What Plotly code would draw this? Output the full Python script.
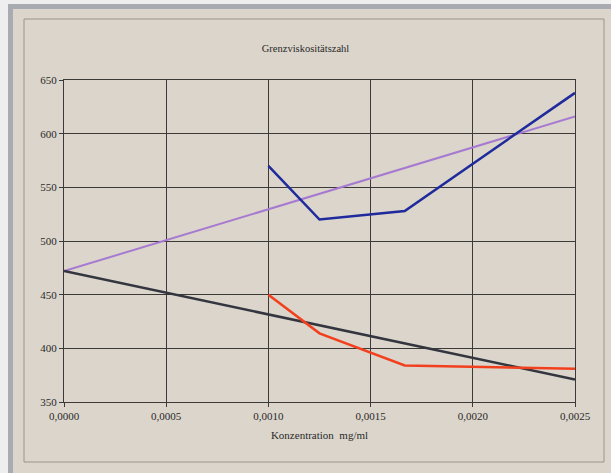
import plotly.graph_objects as go

# Data
x_lines = [0.0, 0.0025]
purple_y = [472, 616]
black_y = [472, 371]

x_meas = [0.0010, 0.00125, 0.001667, 0.0025]
blue_y = [570, 520, 528, 638]
red_y = [450, 414, 384, 381]

x_ticks = [0.0, 0.0005, 0.0010, 0.0015, 0.0020, 0.0025]
y_ticks = [350, 400, 450, 500, 550, 600, 650]

W, H = 611, 473
ML, MR, MT, MB = 64, 36, 80, 71
PW, PH = W - ML - MR, H - MT - MB

def px(x):
    return (x - ML) / PW

def py(y):
    return (H - MB - y) / PH

fig = go.Figure()
fig.add_trace(go.Scatter(x=x_lines, y=purple_y, mode="lines",
                         line=dict(color="#a77ad2", width=2), showlegend=False))
fig.add_trace(go.Scatter(x=x_lines, y=black_y, mode="lines",
                         line=dict(color="#33353f", width=2.5), showlegend=False))
fig.add_trace(go.Scatter(x=x_meas, y=blue_y, mode="lines",
                         line=dict(color="#1f2a9c", width=2.5), showlegend=False))
fig.add_trace(go.Scatter(x=x_meas, y=red_y, mode="lines",
                         line=dict(color="#f2401e", width=2.5), showlegend=False))

bg = "#dbd5cb"
shapes = [
    dict(type="rect", xref="paper", yref="paper", x0=px(0), x1=px(W), y0=py(0), y1=py(4),
         fillcolor="#eeeeee", line=dict(width=0), layer="below"),
    dict(type="rect", xref="paper", yref="paper", x0=px(0), x1=px(8), y0=py(0), y1=py(H),
         fillcolor="#eeeeee", line=dict(width=0), layer="below"),
    dict(type="rect", xref="paper", yref="paper", x0=px(8), x1=px(W), y0=py(4), y1=py(9),
         fillcolor="#a9abb3", line=dict(width=0), layer="below"),
    dict(type="rect", xref="paper", yref="paper", x0=px(8), x1=px(13), y0=py(4), y1=py(H),
         fillcolor="#a9abb3", line=dict(width=0), layer="below"),
    dict(type="rect", xref="paper", yref="paper", x0=px(24), x1=px(604), y0=py(19), y1=py(462),
         fillcolor="rgba(0,0,0,0)", line=dict(color="#9a958c", width=1), layer="below"),
]

font = "Liberation Serif, DejaVu Serif, serif"
fig.update_layout(
    width=W, height=H,
    margin=dict(l=ML, r=MR, t=MT, b=MB),
    paper_bgcolor=bg, plot_bgcolor=bg,
    separators=",.",
    font=dict(family=font, size=11, color="#2a2a2a"),
    title=dict(text="Grenzviskositätszahl", x=0.5, xanchor="center",
               y=1 - 48 / H, yanchor="middle", font=dict(size=10.5, family=font)),
    shapes=shapes,
    xaxis=dict(range=[0, 0.0025], tickvals=x_ticks, tickformat=".4f",
               showgrid=True, gridcolor="#3c3a38", gridwidth=1,
               showline=True, linecolor="#3c3a38", linewidth=1, mirror=True,
               ticks="outside", ticklen=4, tickcolor="#3c3a38",
               zeroline=False,
               title=dict(text="Konzentration  mg/ml", font=dict(size=11, family=font), standoff=10),
               tickfont=dict(size=11)),
    yaxis=dict(range=[350, 650], tickvals=y_ticks,
               showgrid=True, gridcolor="#3c3a38", gridwidth=1,
               showline=True, linecolor="#3c3a38", linewidth=1, mirror=True,
               ticks="outside", ticklen=4, tickcolor="#3c3a38",
               zeroline=False, tickfont=dict(size=11)),
)

fig.write_html("out.html", config={"displayModeBar": False},
               post_script="document.body.style.margin='0';")
